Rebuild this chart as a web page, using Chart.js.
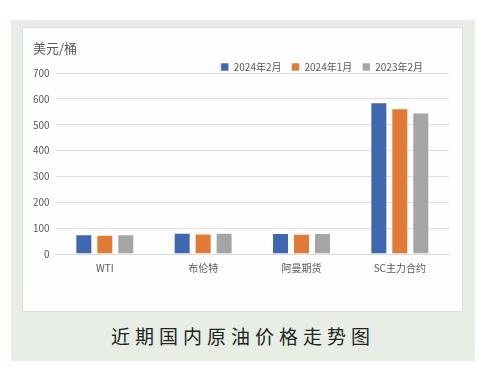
<!DOCTYPE html>
<html>
<head>
<meta charset="utf-8">
<script src="https://cdn.jsdelivr.net/npm/chart.js@4"></script>
<style>
  body { margin: 0; background: #fff; width: 485px; height: 377px; position: relative; font-family: "Noto Sans CJK SC", sans-serif; }
  #frame { position: absolute; left: 11px; top: 20px; width: 464px; height: 341px; background: #e8eee6; }
  #panel { position: absolute; left: 11px; top: 7px; width: 439px; height: 283px; background: #fdfdfd; border: 1px solid #dcdcdc; }
  #unit { position: absolute; left: 10px; top: 10px; font-size: 13px; color: #595959; }
  #caption { position: absolute; left: 0; top: 302px; width: 464px; text-align: center; font-size: 19px; letter-spacing: 5px; color: #222; }
</style>
</head>
<body>
<div id="frame">
  <div id="panel">
    <canvas id="myChart" width="439" height="283"></canvas>
    <div id="unit">美元/桶</div>
  </div>
  <div id="caption">近期国内原油价格走势图</div>
</div>
<script>
"use strict";

const categories = ["WTI", "布伦特", "阿曼期货", "SC主力合约"];
const seriesNames = ["2024年2月", "2024年1月", "2023年2月"];
const feb2024 = [76.5, 81.8, 80.9, 587];
const jan2024 = [74.2, 79.2, 78.5, 564];
const feb2023 = [76.8, 82.5, 81.0, 547];
const yTicks = [0, 100, 200, 300, 400, 500, 600, 700];

const blue = "#4068b1";
const orange = "#e07a36";
const gray = "#a5a5a5";
const textGray = "#595959";
const font = "'Noto Sans CJK SC', sans-serif";

const ctx = document.getElementById("myChart");

const mkSet = (label, values, color) => ({
  label: label,
  data: values,
  backgroundColor: color,
  borderColor: "rgba(255,255,255,0.6)",
  borderWidth: 1,
  categoryPercentage: 0.64,
  barPercentage: 0.81,
});

// legend sits a bit left of the plot's right edge
const legendNudge = {
  id: "legendNudge",
  afterLayout(chart) {
    chart.legend.right -= 16;
  },
};

new Chart(ctx, {
  type: "bar",
  data: {
    labels: categories,
    datasets: [
      mkSet(seriesNames[0], feb2024, blue),
      mkSet(seriesNames[1], jan2024, orange),
      mkSet(seriesNames[2], feb2023, gray),
    ],
  },
  options: {
    responsive: false,
    animation: false,
    layout: { padding: { left: 4, right: 13, top: 24, bottom: 29 } },
    scales: {
      x: {
        grid: { display: false, drawTicks: false },
        border: { color: "#d9d9d9" },
        ticks: { color: textGray, font: { family: font, size: 10 }, padding: 8 },
      },
      y: {
        min: 0,
        max: 700,
        afterBuildTicks: (axis) => {
          axis.ticks = yTicks.map((v) => ({ value: v }));
        },
        grid: { color: "#dedede", drawTicks: false },
        border: { display: false },
        ticks: { color: textGray, font: { family: font, size: 10 }, padding: 6 },
      },
    },
    plugins: {
      legend: {
        position: "top",
        align: "end",
        maxHeight: 21,
        labels: {
          boxWidth: 8,
          boxHeight: 8,
          color: textGray,
          font: { family: font, size: 10 },
          padding: 10,
        },
      },
      tooltip: { enabled: false },
    },
  },
  plugins: [legendNudge],
});
</script>
</body>
</html>
